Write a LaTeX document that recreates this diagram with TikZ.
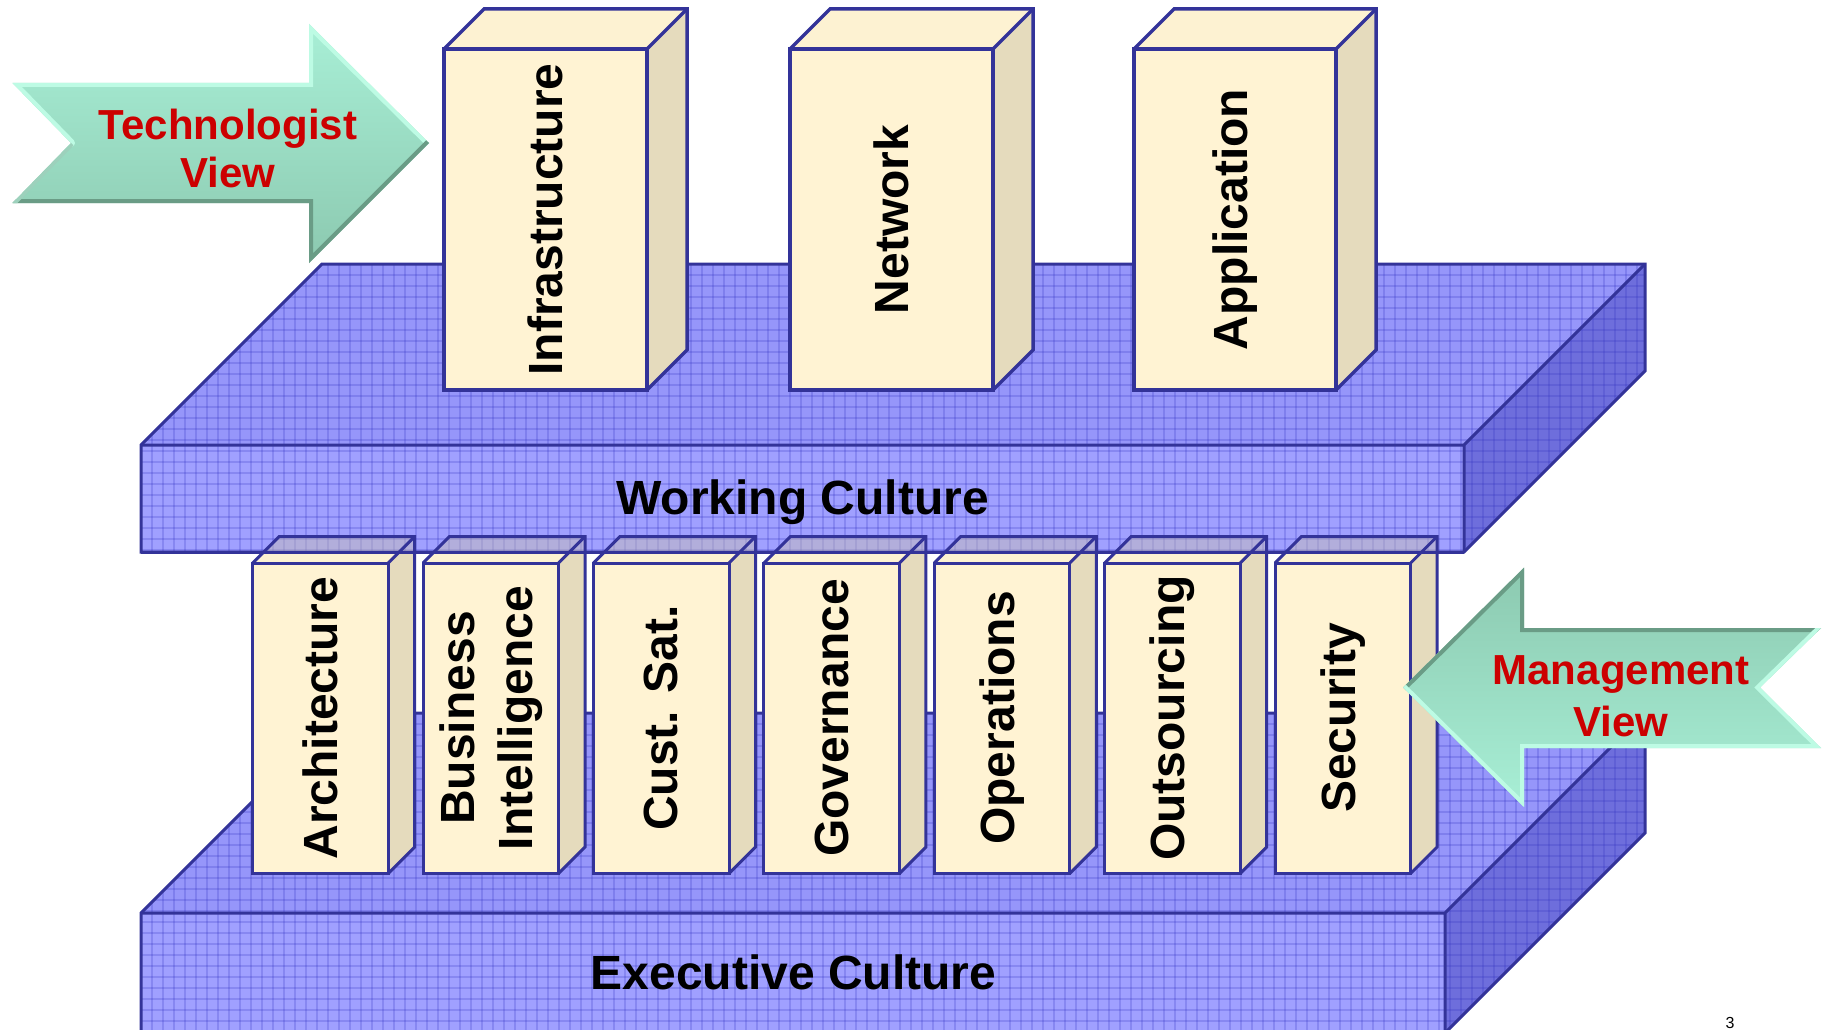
\documentclass[tikz,border=0pt]{standalone}
\usepackage{fontspec}
\setmainfont{Liberation Sans}
\definecolor{edgec}{HTML}{333399}
\definecolor{slabfront}{HTML}{A0A0FF}
\definecolor{slabtop}{HTML}{9696FA}
\definecolor{slabside}{HTML}{6E6EDC}
\definecolor{gridc}{HTML}{3030C0}
\definecolor{boxfront}{HTML}{FFF3D3}
\definecolor{boxside}{HTML}{E5DBBD}
\definecolor{boxtop}{HTML}{FDF2D2}
\definecolor{tintc}{HTML}{C8C0B0}
\definecolor{redtxt}{HTML}{CC0000}
\definecolor{mintlight}{HTML}{A8EFD6}
\definecolor{mintdark}{HTML}{8CC9B0}
\definecolor{bevlight}{HTML}{BDFBE4}
\definecolor{bevdark}{HTML}{6A9C86}
\tikzset{
  slabedge/.style={draw=edgec,line width=3pt,line join=miter},
  gridline/.style={draw=gridc,line width=1.1pt,opacity=0.22},
  boxedge/.style={draw=edgec,line join=miter},
  boxlabel/.style={font=\fontsize{48}{58}\selectfont\bfseries,text=black,inner sep=0pt,align=center},
  slablabel/.style={font=\fontsize{48}{58}\selectfont\bfseries,text=black,inner sep=0pt,anchor=base},
  viewlabel/.style={font=\fontsize{42}{50}\selectfont\bfseries,text=redtxt,inner sep=0pt,anchor=base},
}
\newcommand{\drawslab}[5]{%
  \fill[slabtop] (#1,#3) -- ({#1+#5},{#3-#5}) -- ({#2+#5},{#3-#5}) -- (#2,#3) -- cycle;
  \fill[slabfront] (#1,#3) rectangle (#2,#4);
  \fill[slabside] (#2,#3) -- ({#2+#5},{#3-#5}) -- ({#2+#5},{#4-#5}) -- (#2,#4) -- cycle;
  \begin{scope}
    \clip (#1,#3) -- ({#1+#5},{#3-#5}) -- ({#2+#5},{#3-#5}) -- ({#2+#5},{#4-#5}) -- (#2,#4) -- (#1,#4) -- cycle;
    \foreach \gx in {0,11,...,1540} \draw[gridline] ({#1+\gx},{#3-#5}) -- ({#1+\gx},#4);
    \foreach \gy in {0,11,...,330} \draw[gridline] (#1,{#3-#5+\gy}) -- ({#2+#5},{#3-#5+\gy});
  \end{scope}
  \draw[slabedge] (#1,#3) -- ({#1+#5},{#3-#5}) -- ({#2+#5},{#3-#5}) -- ({#2+#5},{#4-#5}) -- (#2,#4) -- (#1,#4) -- cycle;
  \draw[slabedge] (#1,#3) -- (#2,#3) -- ({#2+#5},{#3-#5}) (#2,#3) -- (#2,#4);
}
% #1 x0, #2 width, #3 ytop, #4 ybottom, #5 depth, #6 line width
\newcommand{\drawbox}[6]{%
  \fill[boxfront] (#1,#3) rectangle ({#1+#2},#4);
  \fill[boxside] ({#1+#2},#3) -- ({#1+#2+#5},{#3-#5}) -- ({#1+#2+#5},{#4-#5}) -- ({#1+#2},#4) -- cycle;
  \fill[boxtop] (#1,#3) -- ({#1+#5},{#3-#5}) -- ({#1+#2+#5},{#3-#5}) -- ({#1+#2},#3) -- cycle;
  \draw[boxedge,line width=#6] (#1,#3) rectangle ({#1+#2},#4);
  \draw[boxedge,line width=#6] (#1,#3) -- ({#1+#5},{#3-#5}) -- ({#1+#2+#5},{#3-#5}) -- ({#1+#2+#5},{#4-#5}) -- ({#1+#2},#4);
  \draw[boxedge,line width=#6] ({#1+#2},#3) -- ({#1+#2+#5},{#3-#5});
}
\newcommand{\tintbox}[4]{%
  \fill[tintc,opacity=0.45] (#1,#3) -- ({#1+#4},{#3-#4}) -- ({#1+#2+#4},{#3-#4}) -- ({#1+#2+#4},{#3+5}) -- ({#1+#2},{#3+5}) -- ({#1+#2},#3) -- cycle;
  \draw[boxedge,line width=3pt] (#1,#3) -- ({#1+#4},{#3-#4}) -- ({#1+#2+#4},{#3-#4}) -- ({#1+#2+#4},{#3+5});
  \draw[boxedge,line width=3pt] ({#1+#2},#3) -- ({#1+#2+#4},{#3-#4});
}
\begin{document}
\begin{tikzpicture}[x=1pt,y=-1pt]
\clip (0,0) rectangle (1823,1030);
\fill[white] (0,0) rectangle (1823,1030);

% Executive slab
\drawslab{141}{1445}{913}{1033}{200}

% lower boxes
\foreach \i in {0,...,6} {
  \drawbox{252.7+170.4*\i}{135.5}{563}{873.5}{26.5}{3pt}
}

% Working slab
\drawslab{141}{1464}{445}{552}{181}

% tinted tops of lower boxes behind the working slab
\begin{scope}
  \clip (0,0) rectangle (1823,552);
  \foreach \i in {0,...,6} {
    \tintbox{252.7+170.4*\i}{135.5}{563}{26.5}
  }
\end{scope}
\draw[slabedge] (141,552) -- (1464,552);

% upper boxes
\drawbox{444}{203}{49}{390}{40}{3.5pt}
\drawbox{790}{203}{49}{390}{40}{3.5pt}
\drawbox{1134}{202}{49}{390}{40}{3.5pt}

% box labels
\node[boxlabel,rotate=90] (infra) at (545.5,219.5) {Infrastructure};
\node[boxlabel,rotate=90] (net) at (891.5,219.5) {Network};
\node[boxlabel,rotate=90] (app) at (1235,219.5) {Application};

\node[boxlabel,rotate=90] (arch) at (320.5,718) {Architecture};
\node[boxlabel,rotate=90] (bi) at (490.9,718) {Business\\Intelligence};
\node[boxlabel,rotate=90] (cust) at (661.3,718) {Cust. Sat.};
\node[boxlabel,rotate=90] (gov) at (831.7,718) {Governance};
\node[boxlabel,rotate=90] (ops) at (1002.1,718) {Operations};
\node[boxlabel,rotate=90] (outs) at (1172.5,718) {Outsourcing};
\node[boxlabel,rotate=90] (sec) at (1342.9,718) {Security};

% slab labels
\node[slablabel] (work) at (802.5,514) {Working Culture};
\node[slablabel] (exec) at (793.5,989) {Executive Culture};

% Technologist arrow
\coordinate (t1) at (12.5,83);
\coordinate (t2) at (309,83);
\coordinate (t3) at (309,24);
\coordinate (t4) at (429,143);
\coordinate (t5) at (309,263);
\coordinate (t6) at (309,203);
\coordinate (t7) at (12.5,203);
\coordinate (t8) at (71,143);
\shade[top color=mintlight,bottom color=mintdark] (t1) -- (t2) -- (t3) -- (t4) -- (t5) -- (t6) -- (t7) -- (t8) -- cycle;
\begin{scope}
  \clip (t1) -- (t2) -- (t3) -- (t4) -- (t5) -- (t6) -- (t7) -- (t8) -- cycle;
  \draw[bevlight,line width=8pt,line cap=round] (t8) -- (t1) -- (t2) -- (t3) -- (t4);
  \draw[bevdark,line width=8pt,line cap=round] (t4) -- (t5) -- (t6) -- (t7);
  \draw[mintdark!85!white,line width=7pt] (t7) -- (t8);
\end{scope}
\node[viewlabel] (tech1) at (228,140) {Technologist};
\node[viewlabel] (tech2) at (228,187) {View};

% Management arrow
\coordinate (m1) at (1403,687.5);
\coordinate (m2) at (1524,567.6);
\coordinate (m3) at (1524,628);
\coordinate (m4) at (1821,628);
\coordinate (m5) at (1760,687.5);
\coordinate (m6) at (1821,748);
\coordinate (m7) at (1524,748);
\coordinate (m8) at (1524,807);
\shade[top color=mintdark,bottom color=mintlight] (m1) -- (m2) -- (m3) -- (m4) -- (m5) -- (m6) -- (m7) -- (m8) -- cycle;
\begin{scope}
  \clip (m1) -- (m2) -- (m3) -- (m4) -- (m5) -- (m6) -- (m7) -- (m8) -- cycle;
  \draw[bevdark,line width=8pt,line cap=round] (m1) -- (m2) -- (m3) -- (m4);
  \draw[bevlight,line width=8pt,line cap=round] (m4) -- (m5) -- (m6) -- (m7) -- (m8) -- (m1);
\end{scope}
\node[viewlabel] (man1) at (1621,684) {Management};
\node[viewlabel] (man2) at (1621,736.5) {View};

% page number
\node[font=\fontsize{16}{18}\selectfont,inner sep=0pt,anchor=base] (pnum) at (1730,1028) {3};
\end{tikzpicture}
\end{document}
